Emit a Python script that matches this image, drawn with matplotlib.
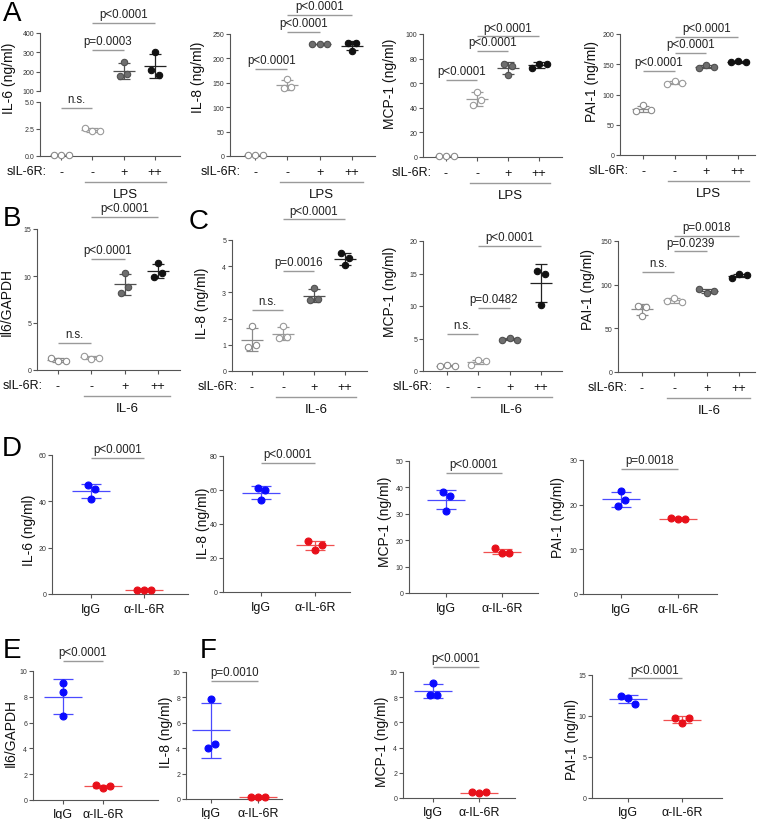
import numpy as np
import matplotlib
matplotlib.use('Agg')
import matplotlib.pyplot as plt
import matplotlib.transforms as mtransforms

# ---------------- data ----------------
cond_labels = ['-', '-', '+', '++']
ab_labels = ['IgG', 'α-IL-6R']

a_il6 = [[0.05, 0.05, 0.05], [2.6, 2.3, 2.35], [252, 176, 188], [300, 210, 183]]
a_il8 = [[2.0, 2.0, 2.0], [158, 139, 141], [229, 230, 230], [231, 231, 216]]
a_mcp1 = [[0.6, 0.5, 0.6], [53, 42, 46], [76, 74, 67], [72, 76, 76]]
a_pai1 = [[73, 82, 74], [117, 123, 119], [144, 148, 146], [153, 155, 153]]
b_il6 = [[1.3, 0.95, 1.0], [1.5, 1.2, 1.3], [10.3, 8.2, 8.8], [11.4, 9.9, 10.3]]
c_il8 = [[1.7, 0.9, 1.0], [1.7, 1.25, 1.3], [3.15, 2.7, 2.75], [4.05, 4.5, 4.3]]
c_mcp1 = [[0.8, 0.9, 0.8], [1.0, 1.7, 1.5], [4.8, 5.1, 4.8], [15.4, 14.9, 10.1]]
c_pai1 = [[76, 75, 64], [81, 85, 80], [95, 91, 93], [108, 112, 111]]
d_il6 = [[47, 45.5, 41], [1.8, 1.9, 1.8]]
d_il8 = [[61.3, 59.9, 54], [29.8, 24.9, 27.6]]
d_mcp1 = [[38.1, 36.8, 31.2], [16.9, 15.1, 15.0]]
d_pai1 = [[23.0, 19.6, 21.1], [17.0, 16.8, 16.9]]
e_il6 = [[9.1, 8.4, 6.5], [1.15, 0.95, 1.1]]
f_il8 = [[7.9, 4.05, 4.3], [0.15, 0.12, 0.14]]
f_mcp1 = [[9.15, 8.2, 8.2], [0.45, 0.4, 0.45]]
f_pai1 = [[12.5, 12.2, 11.5], [9.8, 9.1, 9.8]]

# ---------------- styling ----------------
W, H = 762, 820
PT = 0.72
plt.rcParams['font.family'] = ['Liberation Sans', 'DejaVu Sans']
TICKFONT = ['Liberation Sans', 'DejaVu Sans']
AXC = '#555555'
BRC = '#9a9a9a'

grey_styles = [
    dict(mfc='white', mec='#8a8a8a', lc='#8a8a8a', ms=4.6),
    dict(mfc='white', mec='#9a9a9a', lc='#9a9a9a', ms=4.6),
    dict(mfc='#6e6e6e', mec='#505050', lc='#505050', ms=4.6),
    dict(mfc='#111111', mec='#111111', lc='#222222', ms=4.6),
]
ab_styles = [
    dict(mfc='#0a0aff', mec='#0a0aff', lc='#4a4aff', ms=5.0),
    dict(mfc='#e8101a', mec='#e8101a', lc='#f05050', ms=5.0),
]

fig = plt.figure(figsize=(W / 100, H / 100), dpi=100)


def add_axes(box, cats, n, ylim, yticks, yfmt='{:g}', xaxis=True):
    x0, x1, ytop, ybot = box
    c0, c1 = cats
    d = (c1 - c0) / (n - 1)
    ax = fig.add_axes([x0 / W, 1 - ybot / H, (x1 - x0) / W, (ybot - ytop) / H])
    ax.set_xlim((x0 - c0) / d, (x1 - c0) / d)
    ax.set_ylim(*ylim)
    ax.dpx = d
    ax.ppu = (ybot - ytop) / (ylim[1] - ylim[0])
    for s in ['top', 'right']:
        ax.spines[s].set_visible(False)
    for s in ['left', 'bottom']:
        ax.spines[s].set_color(AXC)
        ax.spines[s].set_linewidth(0.8)
    ax.set_yticks(yticks)
    ax.set_yticklabels([yfmt.format(t) for t in yticks], family=TICKFONT,
                       fontsize=5.0, color='#333333')
    ax.tick_params(axis='y', length=3, width=0.8, color=AXC, pad=1.2)
    ax.tick_params(axis='x', length=3, width=0.8, color=AXC)
    if not xaxis:
        ax.spines['bottom'].set_visible(False)
        ax.set_xticks([])
    ax.patch.set_alpha(0)
    return ax


def set_xlabels(ax, labels, dy=15, fs=9):
    ax.set_xticks(range(len(labels)))
    ax.set_xticklabels(labels, fontsize=fs, va='center', color='#111111')
    ax.tick_params(axis='x', pad=(dy - 3) * PT)


def spread(vals, thr, s):
    n = len(vals)
    order = sorted(range(n), key=lambda i: vals[i])
    clusters = [[order[0]]]
    for i in order[1:]:
        if vals[i] - vals[clusters[-1][-1]] < thr:
            clusters[-1].append(i)
        else:
            clusters.append([i])
    offs = np.zeros(n)
    for c in clusters:
        c = sorted(c)
        k = len(c)
        for j, i in enumerate(c):
            offs[i] = (j - (k - 1) / 2) * s
    return offs


def draw_group(ax, i, vals, st, hw=11, cap=6, sp=7.5, thr=6.5):
    vals = np.asarray(vals, float)
    d = ax.dpx
    offs = spread(vals, thr / ax.ppu, sp / d)
    m = vals.mean()
    sd = vals.std(ddof=1)
    lc = st['lc']
    kw = dict(color=lc, lw=0.9, zorder=2, clip_on=False, solid_capstyle='butt')
    ax.plot([i - hw / d, i + hw / d], [m, m], **kw)
    ax.plot([i, i], [m - sd, m + sd], **kw)
    for yy in (m - sd, m + sd):
        ax.plot([i - cap / d, i + cap / d], [yy, yy], **kw)
    ax.plot(i + offs, vals, ls='none', marker='o', ms=st['ms'], mfc=st['mfc'],
            mec=st['mec'], mew=0.8, zorder=3, clip_on=False)


def bracket(ax, a, b, y, text):
    ax.plot([a, b], [y, y], color=BRC, lw=1.0, clip_on=False, solid_capstyle='butt')
    ax.annotate(text, xy=((a + b) / 2, y), xytext=(0, 2), textcoords='offset points',
                ha='center', va='bottom', fontsize=8.3, color='#222222',
                annotation_clip=False)


def treatment(ax, name):
    ax.annotate('sIL-6R:', xy=(-0.45, 0), xycoords=('data', 'axes fraction'),
                xytext=(0, -15 * PT), textcoords='offset points', ha='right',
                va='center', fontsize=9, color='#111111', annotation_clip=False)
    tr = ax.get_xaxis_transform() + mtransforms.ScaledTranslation(0, -26 / 100, fig.dpi_scale_trans)
    ax.plot([0.78, 3.35], [0, 0], color=BRC, lw=1.0, transform=tr, clip_on=False)
    ax.annotate(name, xy=((0.78 + 3.35) / 2, 0), xycoords=('data', 'axes fraction'),
                xytext=(0, -38 * PT), textcoords='offset points', ha='center',
                va='center', fontsize=9.5, color='#111111', annotation_clip=False)


def ylabel(x, y, text, fs=10):
    fig.text(x / W, 1 - y / H, text, rotation=90, ha='center', va='center',
             fontsize=fs, color='#111111')


def letter(x, y, text):
    fig.text(x / W, 1 - y / H, text, ha='center', va='center', fontsize=20,
             color='#000000')


def grey_panel(ax, data):
    for i, vals in enumerate(data):
        draw_group(ax, i, vals, grey_styles[i])


def ab_panel(ax, data):
    for i, vals in enumerate(data):
        draw_group(ax, i, vals, ab_styles[i], hw=19, cap=10, sp=7, thr=7)


# ---------------- row A ----------------
axA1t = add_axes((40, 180, 34, 92), (61, 155), 4, (100, 400), [100, 200, 300, 400], xaxis=False)
axA1b = add_axes((40, 180, 103, 157), (61, 155), 4, (0, 5), [0, 2.5, 5.0], yfmt='{:.1f}')
for i, vals in enumerate(a_il6):
    target = axA1t if max(vals) > 5 else axA1b
    draw_group(target, i, vals, grey_styles[i])
set_xlabels(axA1b, cond_labels)
treatment(axA1b, 'LPS')
bracket(axA1b, 0, 1, 4.45, 'n.s.')
bracket(axA1t, 1, 2, 314, 'p=0.0003')
bracket(axA1t, 1, 3, 452, 'p<0.0001')
ylabel(9, 78, 'IL-6 (ng/ml)')

axA2 = add_axes((230, 375, 35, 157), (255, 352), 4, (0, 250), [0, 50, 100, 150, 200, 250])
grey_panel(axA2, a_il8)
set_xlabels(axA2, cond_labels)
treatment(axA2, 'LPS')
bracket(axA2, 0, 1, 178, 'p<0.0001')
bracket(axA2, 1, 2, 255, 'p<0.0001')
bracket(axA2, 1, 3, 289, 'p<0.0001')
ylabel(198, 77, 'IL-8 (ng/ml)')

axA3 = add_axes((423, 562, 35, 158), (446, 539), 4, (0, 100), [0, 20, 40, 60, 80, 100])
grey_panel(axA3, a_mcp1)
set_xlabels(axA3, cond_labels)
treatment(axA3, 'LPS')
bracket(axA3, 0, 1, 63, 'p<0.0001')
bracket(axA3, 1, 2, 86, 'p<0.0001')
bracket(axA3, 1, 3, 98, 'p<0.0001')
ylabel(390, 84, 'MCP-1 (ng/ml)')

axA4 = add_axes((620, 755, 35, 156), (643, 738), 4, (0, 200), [0, 50, 100, 150, 200])
grey_panel(axA4, a_pai1)
set_xlabels(axA4, cond_labels)
treatment(axA4, 'LPS')
bracket(axA4, 0, 1, 139, 'p<0.0001')
bracket(axA4, 1, 2, 169, 'p<0.0001')
bracket(axA4, 1, 3, 195, 'p<0.0001')
ylabel(592, 82, 'PAI-1 (ng/ml)')

# ---------------- row B / C ----------------
axB = add_axes((37, 180, 230, 371), (58, 158), 4, (0, 15), [0, 5, 10, 15])
grey_panel(axB, b_il6)
set_xlabels(axB, cond_labels)
treatment(axB, 'IL-6')
bracket(axB, 0, 1, 2.9, 'n.s.')
bracket(axB, 1, 2, 11.8, 'p<0.0001')
bracket(axB, 1, 3, 16.3, 'p<0.0001')
ylabel(7, 302, 'Il6/GAPDH')

axC1 = add_axes((232, 367, 241, 372), (252, 345), 4, (0, 5), [0, 1, 2, 3, 4, 5])
grey_panel(axC1, c_il8)
set_xlabels(axC1, cond_labels)
treatment(axC1, 'IL-6')
bracket(axC1, 0, 1, 2.32, 'n.s.')
bracket(axC1, 1, 2, 3.82, 'p=0.0016')
bracket(axC1, 1, 3, 5.79, 'p<0.0001')
ylabel(202, 303, 'IL-8 (ng/ml)')

axC2 = add_axes((423, 562, 242, 372), (447, 541), 4, (0, 20), [0, 5, 10, 15, 20])
grey_panel(axC2, c_mcp1)
set_xlabels(axC2, cond_labels)
treatment(axC2, 'IL-6')
bracket(axC2, 0, 1, 5.7, 'n.s.')
bracket(axC2, 1, 2, 9.7, 'p=0.0482')
bracket(axC2, 1, 3, 19.3, 'p<0.0001')
ylabel(390, 292, 'MCP-1 (ng/ml)')

axC3 = add_axes((618, 755, 242, 373), (642, 739), 4, (0, 150), [0, 50, 100, 150])
grey_panel(axC3, c_pai1)
set_xlabels(axC3, cond_labels)
treatment(axC3, 'IL-6')
bracket(axC3, 0, 1, 115, 'n.s.')
bracket(axC3, 1, 2, 138, 'p=0.0239')
bracket(axC3, 1, 3, 155.5, 'p=0.0018')
ylabel(588, 290, 'PAI-1 (ng/ml)')

# ---------------- row D ----------------
axD1 = add_axes((52, 188, 456, 595), (91, 144), 2, (0, 60), [0, 20, 40, 60])
ab_panel(axD1, d_il6)
set_xlabels(axD1, ab_labels, dy=14)
bracket(axD1, 0, 1, 58.6, 'p<0.0001')
ylabel(29, 530, 'IL-6 (ng/ml)')

axD2 = add_axes((223, 350, 457, 593), (261, 315), 2, (0, 80), [0, 20, 40, 60, 80])
ab_panel(axD2, d_il8)
set_xlabels(axD2, ab_labels, dy=14)
bracket(axD2, 0, 1, 76, 'p<0.0001')
ylabel(203, 523, 'IL-8 (ng/ml)')

axD3 = add_axes((409, 538, 462, 594), (446, 502), 2, (0, 50), [0, 10, 20, 30, 40, 50])
ab_panel(axD3, d_mcp1)
set_xlabels(axD3, ab_labels, dy=14)
bracket(axD3, 0, 1, 45.5, 'p<0.0001')
ylabel(385, 522, 'MCP-1 (ng/ml)')

axD4 = add_axes((583, 717, 461, 595), (621, 678), 2, (0, 30), [0, 10, 20, 30])
ab_panel(axD4, d_pai1)
set_xlabels(axD4, ab_labels, dy=14)
bracket(axD4, 0, 1, 28, 'p=0.0018')
ylabel(558, 518, 'PAI-1 (ng/ml)')

# ---------------- row E / F ----------------
axE = add_axes((33, 158, 672, 801), (63, 103), 2, (0, 10), [0, 2, 4, 6, 8, 10])
ab_panel(axE, e_il6)
set_xlabels(axE, ab_labels, dy=13)
bracket(axE, 0, 1, 10.8, 'p<0.0001')
ylabel(11, 733, 'Il6/GAPDH')

axF1 = add_axes((186, 282, 673, 800), (211, 258), 2, (0, 10), [0, 2, 4, 6, 8, 10])
ab_panel(axF1, f_il8)
set_xlabels(axF1, ab_labels, dy=13)
bracket(axF1, 0, 1, 9.3, 'p=0.0010')
ylabel(166, 732, 'IL-8 (ng/ml)')

axF2 = add_axes((403, 515, 673, 799), (433, 479), 2, (0, 10), [0, 2, 4, 6, 8, 10])
ab_panel(axF2, f_mcp1)
set_xlabels(axF2, ab_labels, dy=13)
bracket(axF2, 0, 1, 10.4, 'p<0.0001')
ylabel(382, 742, 'MCP-1 (ng/ml)')

axF3 = add_axes((592, 722, 676, 799), (628, 682), 2, (0, 15), [0, 5, 10, 15])
ab_panel(axF3, f_pai1)
set_xlabels(axF3, ab_labels, dy=13)
bracket(axF3, 0, 1, 14.6, 'p<0.0001')
ylabel(572, 740, 'PAI-1 (ng/ml)')

# ---------------- panel letters ----------------
letter(12, 14, 'A')
letter(12, 219, 'B')
letter(199, 222, 'C')
letter(12, 449, 'D')
letter(12, 651, 'E')
letter(208, 651, 'F')

fig.savefig('out.png', dpi=100)
